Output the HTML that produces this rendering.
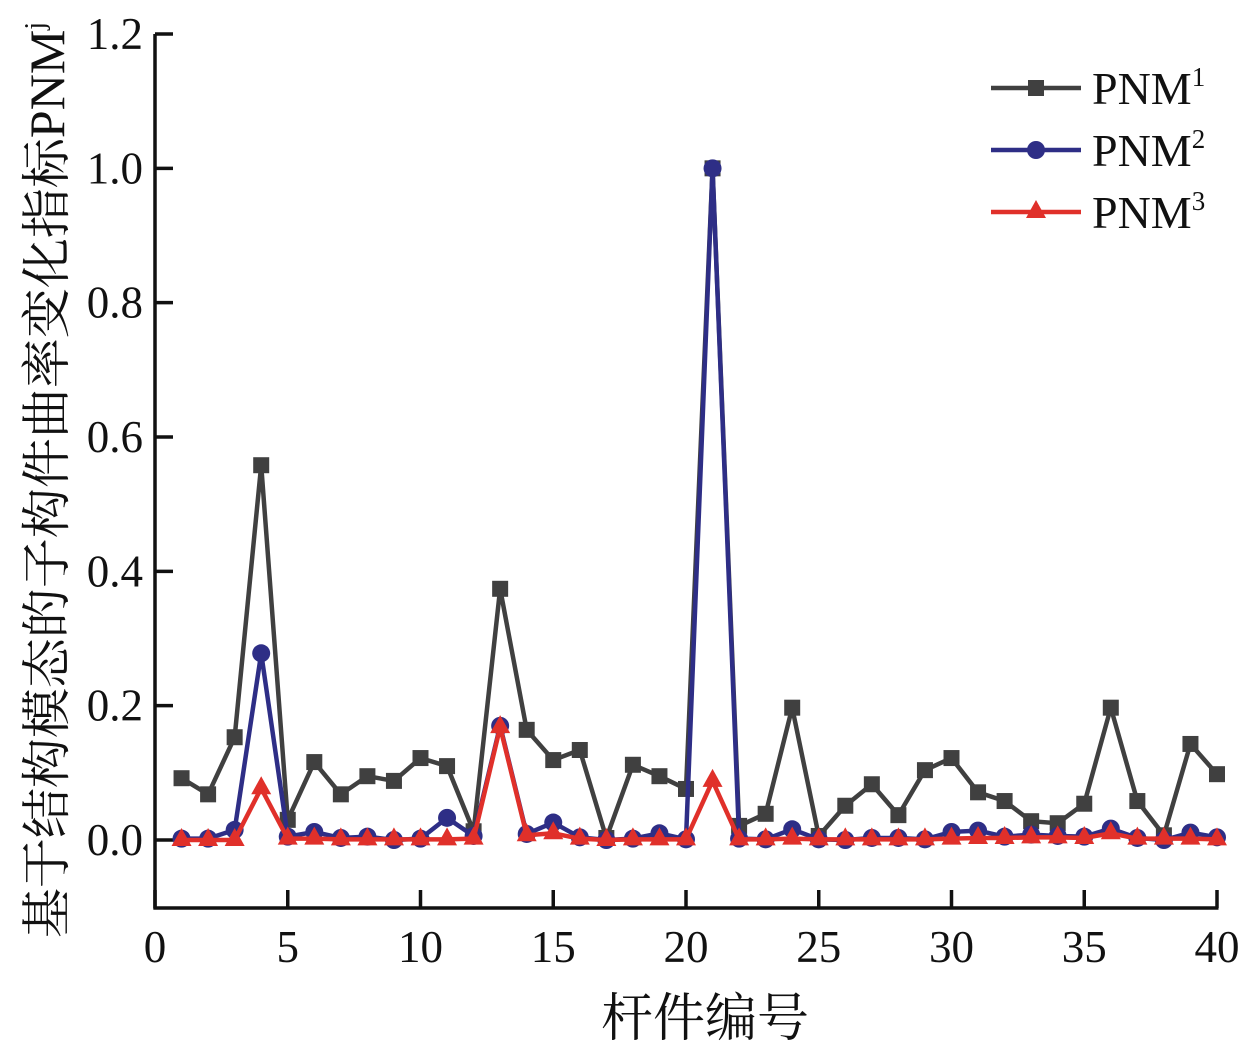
<!DOCTYPE html>
<html><head><meta charset="utf-8"><style>
html,body{margin:0;padding:0;background:#fff;}
svg{display:block;}
text{font-family:"Liberation Serif","Noto Serif CJK SC",serif;fill:#111;}
</style></head><body>
<svg id="chart" width="1256" height="1049" viewBox="0 0 1256 1049" xmlns="http://www.w3.org/2000/svg">
<g id="axes"></g>
<g id="series"></g>
<g id="legend"></g>
<text x="705" y="1036" font-size="52" text-anchor="middle">杆件编号</text>
<text transform="translate(64,480) rotate(-90)" font-size="50" text-anchor="middle">基于结构模态的子构件曲率变化指标PNM<tspan font-size="28" dy="-20">j</tspan></text>
</svg>
<script>
const categories = Array.from({length:40},(_,i)=>i+1);
const pnm1 = [0.092,0.068,0.153,0.558,0.030,0.116,0.068,0.095,0.088,0.122,0.110,0.013,0.374,0.164,0.119,0.134,0.003,0.112,0.095,0.076,1.000,0.021,0.039,0.197,0.006,0.051,0.083,0.037,0.104,0.122,0.071,0.058,0.028,0.025,0.054,0.197,0.058,0.007,0.143,0.098];
const pnm2 = [0.002,0.002,0.015,0.278,0.005,0.012,0.003,0.005,0.000,0.002,0.033,0.006,0.170,0.009,0.026,0.004,0.000,0.002,0.010,0.001,1.000,0.002,0.001,0.016,0.001,0.000,0.003,0.003,0.001,0.012,0.014,0.005,0.008,0.006,0.005,0.017,0.003,0.000,0.011,0.004];
const pnm3 = [0.000,0.000,0.000,0.077,0.002,0.002,0.001,0.001,0.001,0.001,0.001,0.002,0.168,0.007,0.010,0.002,0.000,0.001,0.001,0.001,0.088,0.001,0.001,0.002,0.001,0.001,0.001,0.001,0.001,0.002,0.003,0.003,0.004,0.004,0.003,0.010,0.002,0.002,0.002,0.001];
const xTicks = [0,5,10,15,20,25,30,35,40];
const yTicks = [0.0,0.2,0.4,0.6,0.8,1.0,1.2];
const yTickLabels = ["0.0","0.2","0.4","0.6","0.8","1.0","1.2"];
const legendLabels = ["PNM","PNM","PNM"];
const legendSup = ["1","2","3"];

const NS="http://www.w3.org/2000/svg";
const X0=155,X1=1217,Y0=908,YT=34;
const xs=v=>X0+(v-0)/(40-0)*(X1-X0);
const ys=v=>840-(v)*(840-YT)/1.2;
function mk(tag,attrs,parent){const e=document.createElementNS(NS,tag);for(const k in attrs)e.setAttribute(k,attrs[k]);parent.appendChild(e);return e;}
const axes=document.getElementById('axes');
let l=mk('line',{x1:X0,y1:YT,x2:X0,y2:Y0+1.5,stroke:'#111','stroke-width':3.5},axes);


l=mk('line',{x1:X0-1.5,y1:Y0,x2:X1+1.5,y2:Y0,stroke:'#111','stroke-width':3.5},axes);


yTicks.forEach((v,i)=>{
  const y=ys(v);
  const t=mk('line',{x1:X0,y1:y,x2:X0+18,y2:y,stroke:'#111','stroke-width':3.5},axes);
  
  
  const tx=mk('text',{x:X0-12,y:y+15,'font-size':45,'text-anchor':'end'},axes);
  tx.textContent=yTickLabels[i];
  
  
});
xTicks.forEach(v=>{
  const x=xs(v);
  const t=mk('line',{x1:x,y1:Y0,x2:x,y2:Y0-18,stroke:'#111','stroke-width':3.5},axes);
  
  
  const tx=mk('text',{x:x,y:Y0+54,'font-size':45,'text-anchor':'middle'},axes);
  tx.textContent=String(v);
  
  
});
const seriesG=document.getElementById('series');
const defs=[{d:pnm1,c:'#404040',m:'square',n:'pnm1'},{d:pnm2,c:'#2e2e86',m:'circle',n:'pnm2'},{d:pnm3,c:'#e0302a',m:'triangle',n:'pnm3'}];
function marker(type,x,y,c,g){
  let e;
  if(type==='square') e=mk('rect',{x:x-8,y:y-8,width:16,height:16,fill:c},g);
  else if(type==='circle') e=mk('circle',{cx:x,cy:y,r:9,fill:c},g);
  else e=mk('polygon',{points:`${x},${y-12} ${x-10},${y+6} ${x+10},${y+6}`,fill:c},g);
  return e;
}
defs.forEach(s=>{
  const g=mk('g',{},seriesG);
  
  
  const pts=s.d.map((v,i)=>xs(categories[i])+','+ys(v)).join(' ');
  const pl=mk('polyline',{points:pts,fill:'none',stroke:s.c,'stroke-width':4.5,'stroke-linejoin':'round'},g);
  
  
  s.d.forEach((v,i)=>{
    const m=marker(s.m,xs(categories[i]),ys(v),s.c,g);
    
    
  });
});
const lg=document.getElementById('legend');
defs.forEach((s,i)=>{
  const y=88+i*62;
  const g=mk('g',{},lg);
  
  
  mk('line',{x1:991,y1:y,x2:1081,y2:y,stroke:s.c,'stroke-width':4.5},g);
  marker(s.m,1036,y,s.c,g);
  const t=mk('text',{x:1092,y:y+16,'font-size':46},g);
  t.textContent=legendLabels[i];
  const sp=mk('tspan',{'font-size':27,dy:-18},t);
  sp.textContent=legendSup[i];
});
</script>
</body></html>
